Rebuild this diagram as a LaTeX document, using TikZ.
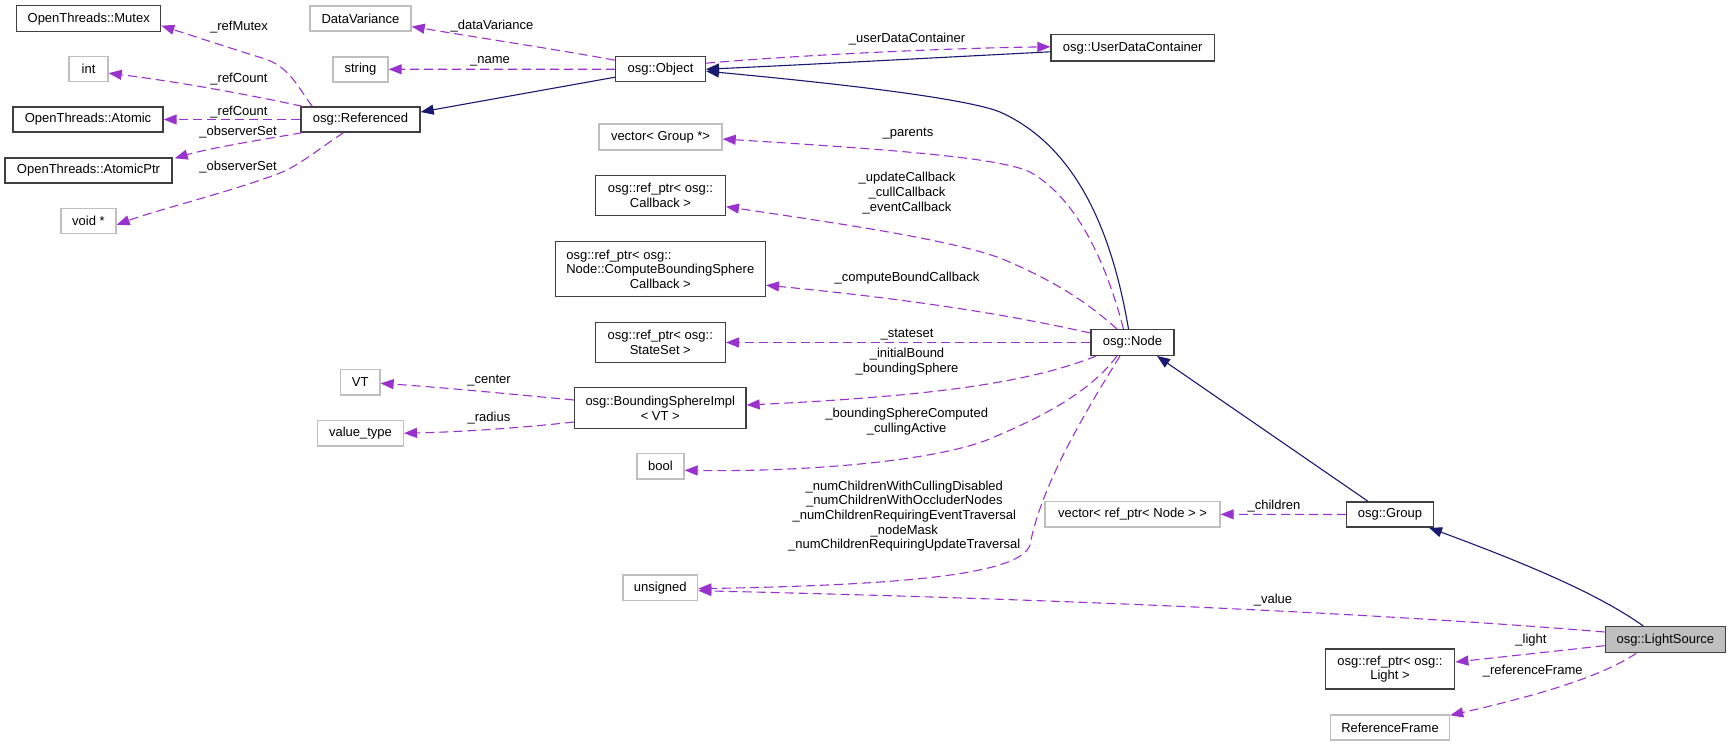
\documentclass[tikz,border=0pt]{standalone}
\usepackage{fontspec}
\setmainfont{Liberation Sans}
\usetikzlibrary{arrows.meta}
\definecolor{purp}{HTML}{9A32CD}
\definecolor{navyc}{HTML}{191970}
\definecolor{dgray}{HTML}{404040}
\definecolor{lgray}{HTML}{BFBFBF}
\tikzset{
  every node/.style={font=\fontsize{13}{14.7}\selectfont, inner sep=0pt, align=center},
  dbox/.style={draw=dgray, line width=1.4pt, fill=white},
  lbox/.style={draw=lgray, line width=1.4pt, fill=white},
  dep/.style={draw=purp, line width=1.1pt, dash pattern=on 9pt off 5pt, -{Triangle[length=13pt,width=10pt,fill=purp]}},
  inh/.style={draw=navyc, line width=1.1pt, -{Triangle[length=13pt,width=10pt,fill=navyc]}},
  lab/.style={fill=none}
}
\begin{document}
\begin{tikzpicture}[x=1pt,y=-1pt]
\useasboundingbox (0,0) rectangle (1731,747);
% nodes
\node[dbox, minimum width=144pt, minimum height=26pt] (mutex) at (88.7,18.7) {OpenThreads::Mutex};
\node[lbox, minimum width=39pt, minimum height=25pt] (int) at (88.5,69.2) {int};
\node[dbox, minimum width=150pt, minimum height=25pt] (atomic) at (88,119.5) {OpenThreads::Atomic};
\node[dbox, minimum width=167pt, minimum height=25pt] (atomicptr) at (88.5,170.5) {OpenThreads::AtomicPtr};
\node[lbox, minimum width=55pt, minimum height=25pt] (voidp) at (88.5,220.8) {void *};
\node[dbox, minimum width=119pt, minimum height=25pt] (referenced) at (360.5,119.5) {osg::Referenced};
\node[lbox, minimum width=101pt, minimum height=25pt] (datavariance) at (360.5,18.5) {DataVariance};
\node[lbox, minimum width=55pt, minimum height=25pt] (string) at (360.5,69.3) {string};
\node[dbox, minimum width=89.6pt, minimum height=25pt] (object) at (660.5,69.2) {osg::Object};
\node[dbox, minimum width=163.3pt, minimum height=26.3pt] (udc) at (1132.7,47.8) {osg::UserDataContainer};
\node[lbox, minimum width=123pt, minimum height=26pt] (vecgroup) at (660.5,137) {vector< Group *>};
\node[dbox, minimum width=129.6pt, minimum height=40pt] (callback) at (660.5,195.7) {osg::ref\_ptr< osg::\\Callback >};
\node[dbox, minimum width=210pt, minimum height=55pt] (computebs) at (660.3,269.2) {{\setbox0\hbox{Node::ComputeBoundingSphere}\makebox[\wd0][l]{osg::ref\_ptr< osg::}}\\Node::ComputeBoundingSphere\\Callback >};
\node[dbox, minimum width=130pt, minimum height=40.4pt] (stateset) at (660.3,342.5) {osg::ref\_ptr< osg::\\StateSet >};
\node[lbox, minimum width=39.3pt, minimum height=25.3pt] (vt) at (360.3,382.3) {VT};
\node[lbox, minimum width=85.6pt, minimum height=25.7pt] (valuetype) at (360.5,433.2) {value\_type};
\node[dbox, minimum width=171.3pt, minimum height=40.6pt] (bsi) at (660.3,408) {osg::BoundingSphereImpl\\< VT >};
\node[lbox, minimum width=47pt, minimum height=25.3pt] (bool) at (660.5,466.3) {bool};
\node[lbox, minimum width=74.7pt, minimum height=25.3pt] (unsigned) at (660.3,587.7) {unsigned};
\node[dbox, minimum width=83pt, minimum height=25.6pt] (node) at (1132.5,342.5) {osg::Node};
\node[lbox, minimum width=175pt, minimum height=25.3pt] (vecnode) at (1132.5,514.3) {vector< ref\_ptr< Node > >};
\node[dbox, minimum width=86.6pt, minimum height=25pt] (group) at (1390,514.5) {osg::Group};
\node[dbox, fill=lgray, minimum width=120pt, minimum height=26pt] (lightsource) at (1665.3,639.7) {osg::LightSource};
\node[dbox, minimum width=129.4pt, minimum height=40pt] (light) at (1390,669) {osg::ref\_ptr< osg::\\Light >};
\node[lbox, minimum width=119pt, minimum height=25pt] (refframe) at (1390,727.5) {ReferenceFrame};

% Referenced members
\draw[dep] ([xshift=12pt]referenced.north west) .. controls (298,88) and (290,66) .. (262,58) .. controls (230,48) and (190,35) .. ([yshift=-7pt]mutex.east);
\draw[dep] ([xshift=2pt]referenced.north west) .. controls (250,95) and (180,82) .. ([yshift=-4pt]int.east);
\draw[dep] (referenced.west) -- (atomic.east);
\draw[dep] ([xshift=2pt]referenced.south west) .. controls (260,140) and (210,148) .. ([xshift=2pt,yshift=-1pt]atomicptr.north east);
\draw[dep] ([xshift=-17pt]referenced.south) .. controls (320,148) and (300,165) .. (280,173) .. controls (230,192) and (160,209) .. ([yshift=-4pt]voidp.east);
\node[lab] (l1) at (239,27) {\_refMutex};
\node[lab] (l2) at (239,79) {\_refCount};
\node[lab] (l3) at (239,112) {\_refCount};
\node[lab] (l4) at (238,132) {\_observerSet};
\node[lab] (l5) at (238,167) {\_observerSet};

% Object
\draw[inh] ([yshift=-8pt]object.west) -- ([yshift=7.5pt]referenced.east);
\draw[dep] ([yshift=9pt]object.west) .. controls (560,50) and (480,38) .. ([yshift=-8pt]datavariance.east);
\draw[dep] (object.west) -- (string.east);
\node[lab] (l6) at (492,26) {\_dataVariance};
\node[lab] (l7) at (490,61) {\_name};
\draw[dep] ([yshift=6pt]object.east) .. controls (800,55) and (950,48) .. ([yshift=1pt]udc.west);
\draw[inh] ([yshift=-4pt]udc.west) .. controls (950,57) and (800,65) .. (object.east);
\node[lab] (l8) at (907,39) {\_userDataContainer};

% Node -> Object
\draw[inh] ([xshift=-4pt]node.north) .. controls (1115,250) and (1085,150) .. (1000,112) .. controls (960,96) and (800,80) .. ([yshift=-2pt]object.east);

% Node members
\draw[dep] ([xshift=-9pt]node.north) .. controls (1108,270) and (1080,200) .. (1030,172) .. controls (1000,158) and (900,150) .. ([yshift=-2pt]vecgroup.east);
\node[lab] (l9) at (908,134) {\_parents};
\draw[dep] ([xshift=-15.5pt]node.north) .. controls (1090,305) and (1060,283) .. (1000,258) .. controls (950,240) and (850,225) .. ([yshift=-11pt]callback.east);
\node[lab] (l10) at (907,193) {\_updateCallback\\\_cullCallback\\\_eventCallback};
\draw[dep] ([yshift=-4pt]node.north west) .. controls (1040,322) and (950,303) .. ([yshift=-16pt]computebs.east);
\node[lab] (l11) at (907,278) {\_computeBoundCallback};
\draw[dep] (node.west) -- (stateset.east);
\node[lab] (l12) at (907,334.3) {\_stateset};
\draw[dep] ([xshift=6pt]node.south west) .. controls (1040,378) and (960,395) .. ([yshift=3pt]bsi.east);
\node[lab] (l13) at (907,361.5) {\_initialBound\\\_boundingSphere};
\draw[dep] ([yshift=8pt]bsi.west) .. controls (520,395) and (450,388) .. ([yshift=-1pt]vt.east);
\node[lab] (l14) at (489,380.7) {\_center};
\draw[dep] ([yshift=-14pt]bsi.west) .. controls (520,428) and (460,432) .. (valuetype.east);
\node[lab] (l15) at (489,418) {\_radius};
\draw[dep] ([xshift=-15.5pt]node.south) .. controls (1095,385) and (1060,410) .. (987,440) .. controls (930,462) and (800,472) .. ([yshift=-4pt]bool.east);
\node[lab] (l16) at (906.7,421.5) {\_boundingSphereComputed\\\_cullingActive};
\draw[dep] ([xshift=-12.5pt]node.south) .. controls (1080,420) and (1040,490) .. (1030,545) .. controls (1020,575) and (900,585) .. ([yshift=-1pt]unsigned.east);
\node[lab] (l17) at (904.3,516.2) {\_numChildrenWithCullingDisabled\\\_numChildrenWithOccluderNodes\\\_numChildrenRequiringEventTraversal\\\_nodeMask\\\_numChildrenRequiringUpdateTraversal};

% Group
\draw[inh] ([xshift=-22pt]group.north) -- ([xshift=24.5pt]node.south);
\draw[dep] (group.west) -- (vecnode.east);
\node[lab] (l18) at (1274,506) {\_children};

% LightSource
\draw[inh] ([xshift=-22pt]lightsource.north) .. controls (1600,595) and (1530,565) .. ([xshift=-5pt]group.south east);
\draw[dep] ([yshift=7.7pt]lightsource.west) .. controls (1400,615) and (1100,600) .. ([yshift=-3pt]unsigned.east);
\node[lab] (l19) at (1273,600.5) {\_value};
\draw[dep] ([yshift=-6pt]lightsource.west) -- ([yshift=7pt]light.east);
\node[lab] (l20) at (1531,640) {\_light};
\draw[dep] ([xshift=-29pt]lightsource.south) .. controls (1610,670) and (1570,688) .. ([yshift=-1pt]refframe.north east);
\node[lab] (l21) at (1532.7,670.7) {\_referenceFrame};
\end{tikzpicture}
\end{document}
